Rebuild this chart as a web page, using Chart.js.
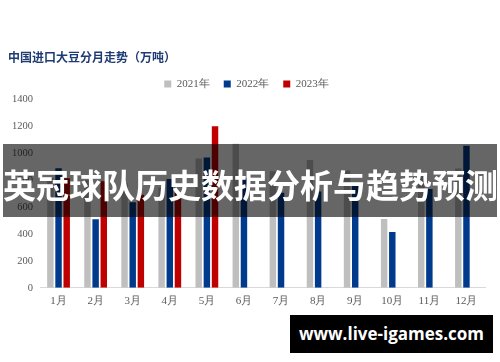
<!DOCTYPE html>
<html>
<head>
<meta charset="utf-8">
<script src="https://cdn.jsdelivr.net/npm/chart.js@4.4.0/dist/chart.umd.min.js"></script>
<style>
    html, body { margin: 0; padding: 0; background: #ffffff; }
    #wrap { position: relative; width: 500px; height: 362px; overflow: hidden; }
    #banner {
        position: absolute; left: 3px; top: 144px; width: 494px; height: 73px;
        background: rgba(0, 0, 0, 0.6);
        color: #ffffff; font-family: 'Noto Sans CJK SC', sans-serif; font-weight: bold;
        font-size: 33px; line-height: 73px; text-align: center; white-space: nowrap;
        padding-top: 4px; box-sizing: border-box;
    }
    #site {
        position: absolute; left: 290px; top: 315px; width: 203px; height: 38px;
        background: #000000; color: #ffffff; font-family: 'Open Sans', sans-serif;
        font-weight: bold; font-size: 17px; line-height: 38px; text-align: center;
    }
</style>
</head>
<body>
<div id="wrap">
    <canvas id="chart" width="500" height="362"></canvas>
    <div id="banner">英冠球队历史数据分析与趋势预测</div>
    <div id="site">www.live-igames.com</div>
</div>
<script>
// 中国进口大豆分月走势（万吨）
const months = ['1月', '2月', '3月', '4月', '5月', '6月', '7月', '8月', '9月', '10月', '11月', '12月'];
const seriesNames = ['2021年', '2022年', '2023年'];
const imports2021 = [815, 800, 777, 745, 961, 1070, 867, 949, 871, 511, 857, 886];
const imports2022 = [888, 509, 635, 808, 968, 817, 706, 716, 772, 414, 735, 1055];
const imports2023 = [814, 792, 692, 705, 1201, null, null, null, null, null, null, null];
const yTicks = [0, 200, 400, 600, 800, 1000, 1200, 1400];

const colors = ['#bfbfbf', '#003a8c', '#c00000'];
const serif = "'Liberation Serif', 'Times New Roman', serif";

const ctx = document.getElementById('chart');

new Chart(ctx, {
    type: 'bar',
    data: {
        labels: months,
        datasets: [imports2021, imports2022, imports2023].map((d, i) => ({
            label: seriesNames[i],
            data: d,
            backgroundColor: colors[i],
            borderWidth: 0,
            categoryPercentage: 0.66,
            barPercentage: 0.79
        }))
    },
    options: {
        responsive: false,
        animation: false,
        layout: { padding: { top: 50, left: 8, right: 15, bottom: 47 } },
        plugins: {
            title: {
                display: true,
                text: '中国进口大豆分月走势（万吨）',
                align: 'start',
                color: '#1f3b73',
                font: { family: "'Noto Sans CJK SC', sans-serif", size: 12, weight: 'bold' },
                padding: { top: 0, bottom: 0 }
            },
            legend: {
                display: true,
                labels: {
                    boxWidth: 7,
                    boxHeight: 7,
                    color: '#595959',
                    padding: 14,
                    font: { family: serif, size: 11 }
                }
            },
            tooltip: { enabled: false }
        },
        scales: {
            x: {
                grid: { display: false, drawTicks: false },
                border: { display: true, color: '#d9d9d9' },
                ticks: { color: '#595959', font: { family: serif, size: 11 }, padding: 7 }
            },
            y: {
                min: 0,
                max: 1400,
                afterBuildTicks: function (scale) {
                    scale.ticks = yTicks.map(v => ({ value: v }));
                },
                afterFit: function (scale) { scale.width = 32; },
                grid: { display: false, drawTicks: false },
                border: { display: false },
                ticks: {
                    color: '#595959',
                    font: { family: serif, size: 10.5 },
                    padding: 7,
                    callback: function (value) { return String(value); }
                }
            }
        }
    }
});
</script>
</body>
</html>
